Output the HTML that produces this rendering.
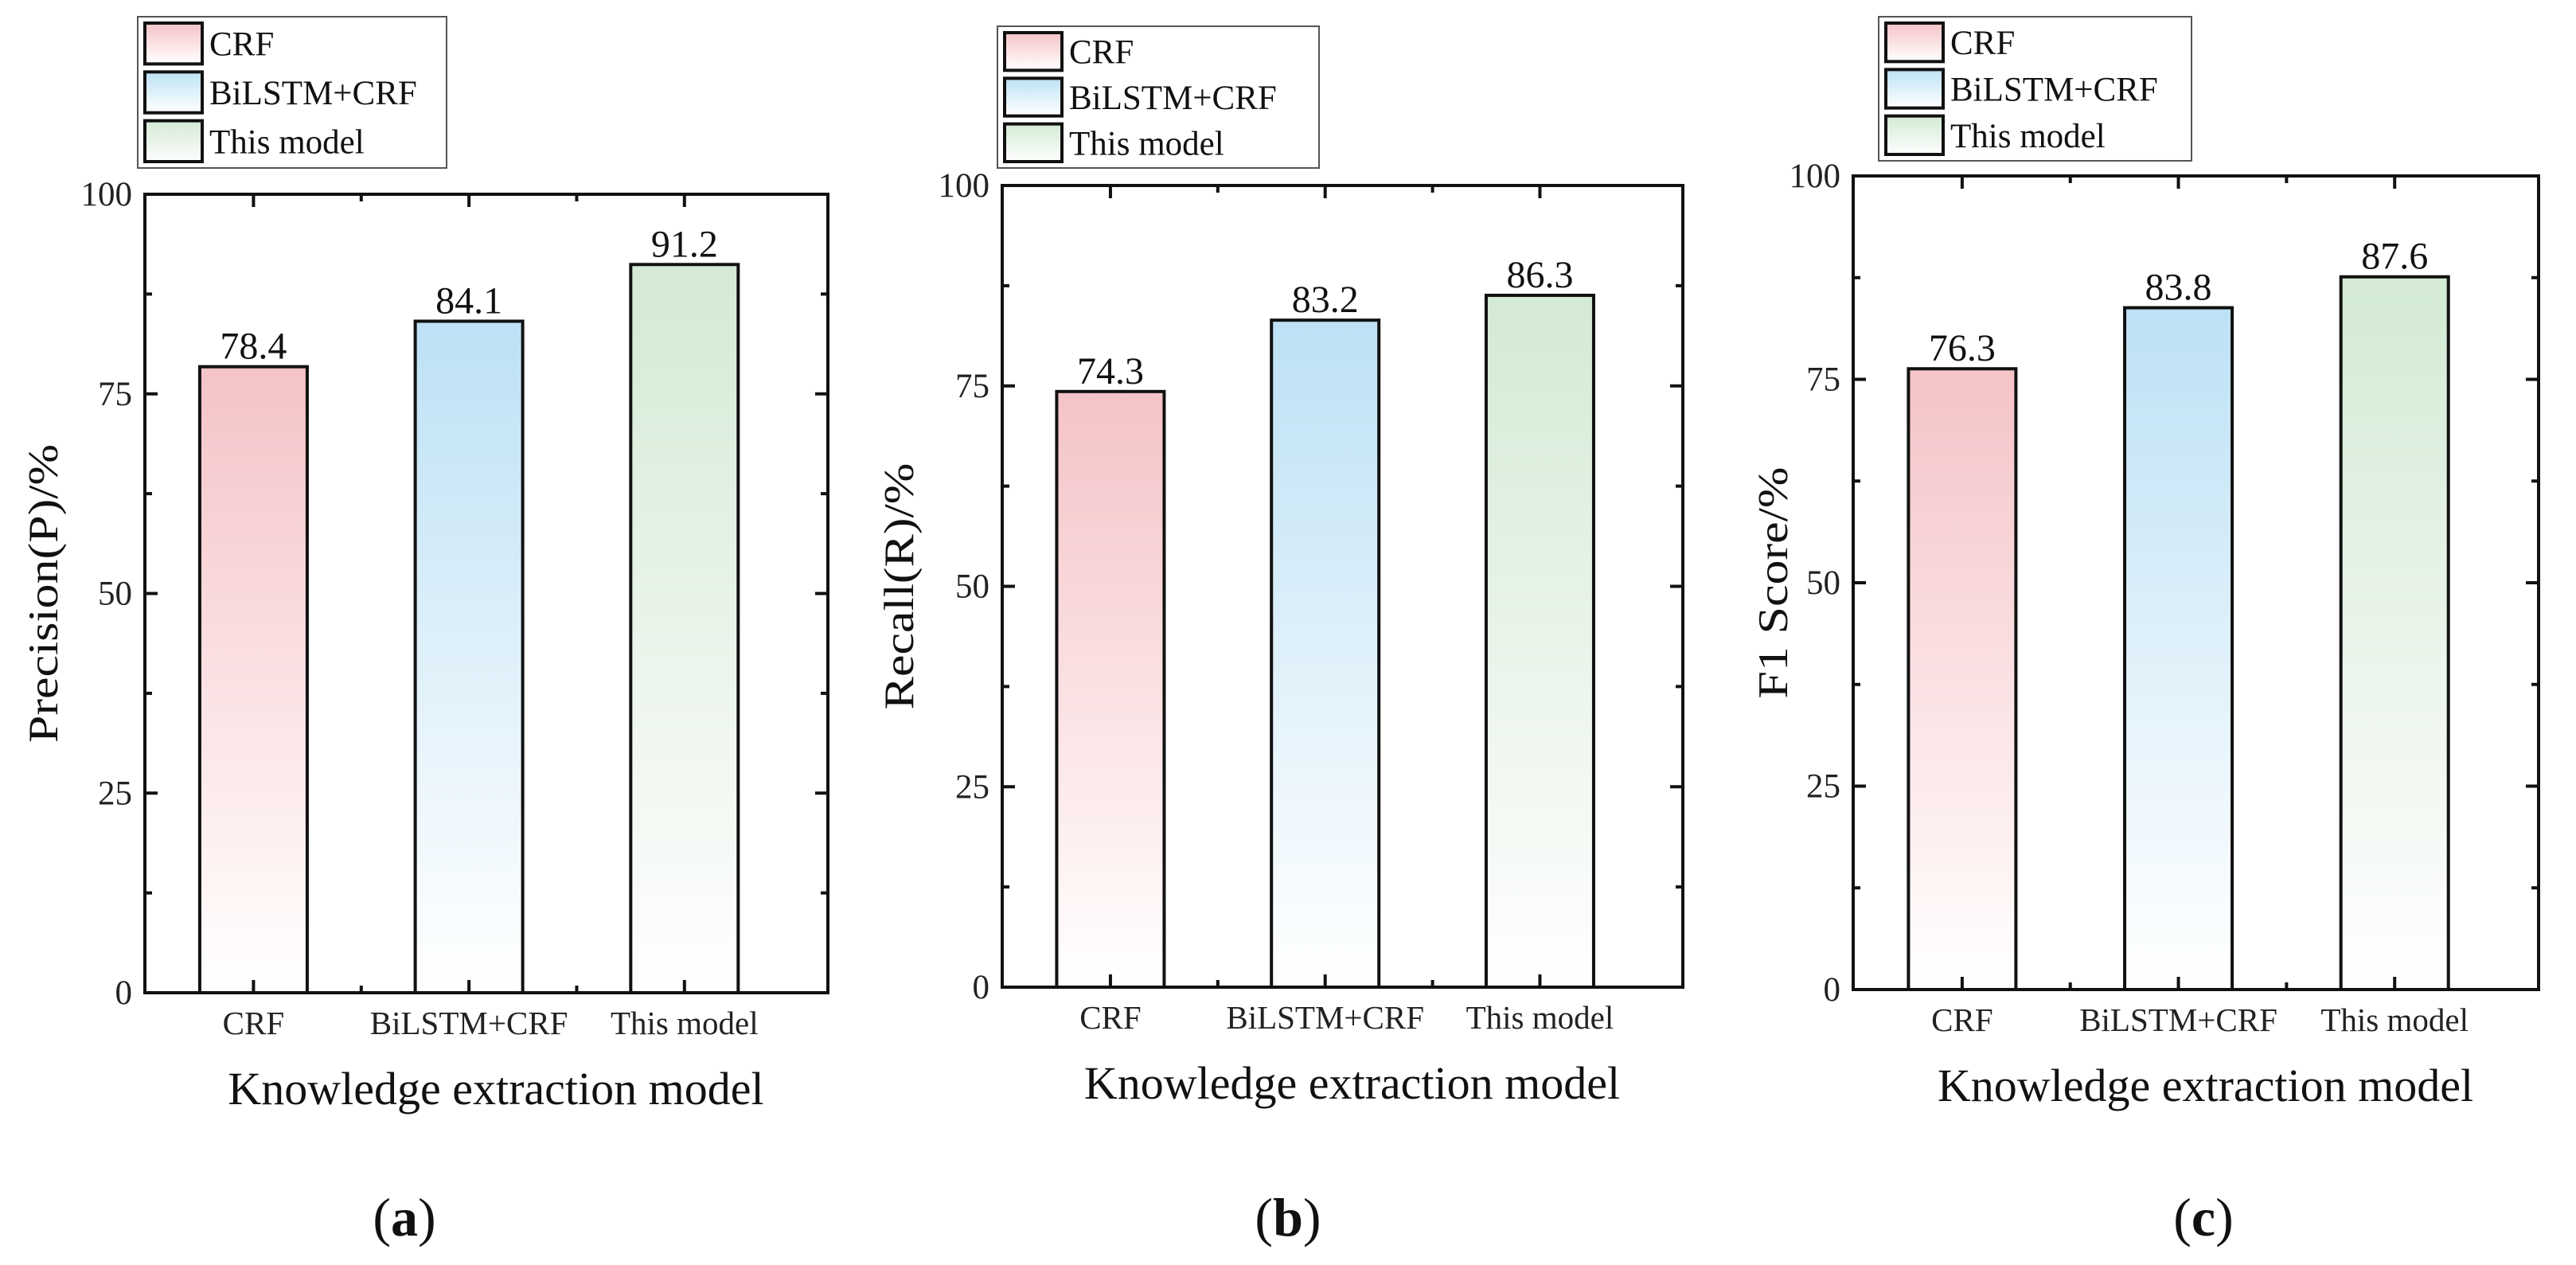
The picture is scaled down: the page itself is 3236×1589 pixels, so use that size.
<!DOCTYPE html>
<html><head><meta charset="utf-8"><style>
html,body{margin:0;padding:0;background:#fff;}
svg{display:block;font-family:"Liberation Serif",serif;}
</style></head><body>
<svg id="chart" width="3236" height="1589" viewBox="0 0 3236 1589" xmlns="http://www.w3.org/2000/svg">
<defs>
<linearGradient id="gPink" x1="0" y1="0" x2="0" y2="1"><stop offset="0" stop-color="#f4c3c7"/><stop offset="0.85" stop-color="#fff6f6"/><stop offset="1" stop-color="#ffffff"/></linearGradient>
<linearGradient id="gBlue" x1="0" y1="0" x2="0" y2="1"><stop offset="0" stop-color="#bde1f5"/><stop offset="0.85" stop-color="#f6fbfe"/><stop offset="1" stop-color="#ffffff"/></linearGradient>
<linearGradient id="gGreen" x1="0" y1="0" x2="0" y2="1"><stop offset="0" stop-color="#d3ead4"/><stop offset="0.85" stop-color="#f8fbf8"/><stop offset="1" stop-color="#ffffff"/></linearGradient>
</defs>
</svg>
<script>
const categories = ["CRF", "BiLSTM+CRF", "This model"];
const precisionValues = [78.4, 84.1, 91.2];
const recallValues = [74.3, 83.2, 86.3];
const f1Values = [76.3, 83.8, 87.6];
const yTicks = [0, 25, 50, 75, 100];
const yTitles = ["Precision(P)/%", "Recall(R)/%", "F1 Score/%"];
const panelLetters = ["a", "b", "c"];

const NS = "http://www.w3.org/2000/svg";
const svg = document.getElementById("chart");
const fills = ["url(#gPink)", "url(#gBlue)", "url(#gGreen)"];
function mk(tag, attrs, parent) {
  const e = document.createElementNS(NS, tag);
  for (const k in attrs) e.setAttribute(k, attrs[k]);
  (parent || svg).appendChild(e);
  return e;
}
const panels = [
  {L:182, R:1040, T:244, B:1247, vals:precisionValues, leg:[173,21,388,190], yl:52, lx:480},
  {L:1259, R:2114, T:233, B:1240, vals:recallValues, leg:[1253,33,404,178], yl:1127, lx:1590},
  {L:2328, R:3189, T:221, B:1243, vals:f1Values, leg:[2360,21,393,181], yl:2225, lx:2740}
];
panels.forEach((p, pi) => {
  const g = mk("g", {});
  
  
  const y = v => p.B - (v / 100) * (p.B - p.T);
  const W = p.R - p.L;
  const x = i => p.L + W * (0.159 + i * 0.3155);
  const bw = 135;
  p.vals.forEach((v, i) => {
    const r = mk("rect", {x: x(i) - bw/2, y: y(v), width: bw, height: p.B - y(v), fill: fills[i], stroke: "#111", "stroke-width": 4}, g);
    
    
    const t = mk("text", {x: x(i), y: y(v) - 10, "font-size": 48, "text-anchor": "middle", fill: "#111"}, g);
    t.textContent = v.toFixed(1);
    
    
  });
  const fr = mk("rect", {x: p.L, y: p.T, width: W, height: p.B - p.T, fill: "none", stroke: "#111", "stroke-width": 4}, g);
  
  
  yTicks.forEach(v => {
    mk("line", {x1: p.L, x2: p.L + 16, y1: y(v), y2: y(v), stroke: "#111", "stroke-width": 4}, g);
    mk("line", {x1: p.R, x2: p.R - 16, y1: y(v), y2: y(v), stroke: "#111", "stroke-width": 4}, g);
    const t = mk("text", {x: p.L - 16, y: y(v) + 14, "font-size": 43, "text-anchor": "end", fill: "#222"}, g);
    t.textContent = v;
    
    
  });
  for (let k = 0; k < yTicks.length - 1; k++) {
    const v = (yTicks[k] + yTicks[k+1]) / 2;
    mk("line", {x1: p.L, x2: p.L + 9, y1: y(v), y2: y(v), stroke: "#111", "stroke-width": 4}, g);
    mk("line", {x1: p.R, x2: p.R - 9, y1: y(v), y2: y(v), stroke: "#111", "stroke-width": 4}, g);
  }
  categories.forEach((c, i) => {
    mk("line", {x1: x(i), x2: x(i), y1: p.B, y2: p.B - 16, stroke: "#111", "stroke-width": 4}, g);
    mk("line", {x1: x(i), x2: x(i), y1: p.T, y2: p.T + 16, stroke: "#111", "stroke-width": 4}, g);
    if (i < categories.length - 1) {
      const mx = (x(i) + x(i+1)) / 2;
      mk("line", {x1: mx, x2: mx, y1: p.B, y2: p.B - 9, stroke: "#111", "stroke-width": 4}, g);
      mk("line", {x1: mx, x2: mx, y1: p.T, y2: p.T + 9, stroke: "#111", "stroke-width": 4}, g);
    }
    const t = mk("text", {x: x(i), y: p.B + 52, "font-size": 41, "text-anchor": "middle", fill: "#222"}, g);
    t.textContent = c;
    
    
  });
  const xt = mk("text", {x: (p.L + p.R) / 2 + 12, y: p.B + 140, "font-size": 58, "text-anchor": "middle", fill: "#111"}, g);
  xt.textContent = "Knowledge extraction model";
  
  
  const yc = (p.T + p.B) / 2;
  const yt = mk("text", {x: 0, y: 0, "font-size": 62, "text-anchor": "middle", fill: "#111", transform: `translate(${p.yl + 20},${yc}) rotate(-90) scale(1,0.85)`}, g);
  yt.textContent = yTitles[pi];
  
  
  const [lx, ly, lw, lh] = p.leg;
  const lg = mk("g", {}, g);
  
  
  mk("rect", {x: lx, y: ly, width: lw, height: lh, fill: "#fff", stroke: "#555", "stroke-width": 2}, lg);
  const rh = lh / 3;
  categories.forEach((c, i) => {
    const sy = ly + 8 + i * (rh - 2);
    const s = mk("rect", {x: lx + 9, y: sy, width: 72, height: rh - 12, fill: fills[i], stroke: "#111", "stroke-width": 4}, lg);
    
    
    const t = mk("text", {x: lx + 90, y: sy + rh / 2 + 9, "font-size": 43, fill: "#111"}, lg);
    t.textContent = c;
    
    
  });
  const pl = mk("text", {x: p.lx + 28, y: 1552, "font-size": 68, "text-anchor": "middle", fill: "#111"}, g);
  pl.innerHTML = '(<tspan font-weight="bold">' + panelLetters[pi] + '</tspan>)';
  
  
});
</script>
</body></html>
